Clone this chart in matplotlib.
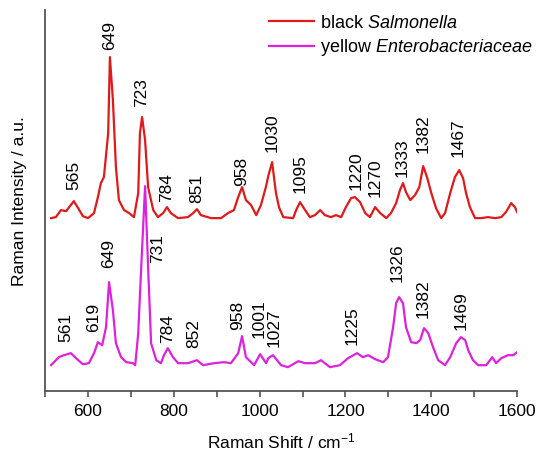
import numpy as np
import matplotlib
matplotlib.use('Agg')
from matplotlib import pyplot as plt

plt.rcParams['font.family'] = 'Liberation Sans'
plt.rcParams['mathtext.fontset'] = 'custom'
plt.rcParams['mathtext.rm'] = 'Liberation Sans'
plt.rcParams['mathtext.it'] = 'Liberation Sans:italic'

# black Salmonella spectrum (Raman shift / cm-1, intensity a.u.)
red_x = [514, 525, 537, 549, 556, 567, 577, 588, 600, 614, 623, 630, 637, 647, 651,
         658, 665, 672, 684, 696, 707, 717, 721, 726, 733, 740, 752, 763, 775, 784,
         793, 810, 833, 845, 854, 863, 887, 910, 926, 940, 950, 959, 968, 980, 992,
         1003, 1015, 1020, 1029, 1038, 1045, 1055, 1078, 1085, 1094, 1106, 1117, 1129,
         1141, 1152, 1166, 1178, 1190, 1201, 1213, 1222, 1234, 1246, 1257, 1269, 1281,
         1295, 1306, 1318, 1327, 1334, 1341, 1351, 1362, 1372, 1381, 1390, 1400, 1411,
         1423, 1432, 1444, 1455, 1465, 1474, 1481, 1490, 1502, 1516, 1532, 1549, 1563,
         1574, 1586, 1595, 1600]
red_y = [173, 174, 181, 180, 184, 190, 183, 175, 173, 178, 194, 208, 214, 258, 334,
         291, 224, 191, 181, 178, 174, 198, 258, 274, 251, 204, 181, 174, 178, 184,
         178, 173, 174, 178, 182, 176, 173, 173, 178, 181, 194, 204, 191, 186, 176,
         186, 205, 215, 229, 198, 184, 174, 173, 181, 189, 181, 174, 176,
         181, 176, 174, 176, 174, 184, 193, 194, 189, 178, 174, 184, 178,
         173, 178, 188, 201, 208, 199, 191, 196, 204, 225, 214, 198, 183,
         173, 178, 198, 214, 221, 213, 198, 184, 173, 173, 174, 173, 174,
         179, 188, 184, 179]

# yellow Enterobacteriaceae spectrum
mag_x = [514, 532, 544, 560, 572, 588, 602, 614, 623, 633, 642, 649, 658, 665, 677,
         689, 705, 710, 717, 724, 733, 740, 747, 759, 770, 777, 786, 798, 810, 833,
         854, 868, 894, 917, 933, 950, 959, 968, 987, 1001, 1015, 1020, 1031, 1050,
         1066, 1090, 1106, 1129, 1143, 1164, 1187, 1206, 1227, 1241, 1253, 1269, 1288,
         1299, 1311, 1318, 1325, 1334, 1341, 1353, 1365, 1374, 1383, 1393, 1404, 1416,
         1432, 1444, 1458, 1469, 1479, 1486, 1497, 1509, 1528, 1542, 1551, 1563, 1579,
         1591, 1600]
mag_y = [26, 34, 36, 38, 33, 27, 28, 38, 49, 46, 64, 109, 81, 48, 34,
         29, 28, 26, 58, 124, 205, 124, 48, 31, 28, 36, 43, 34, 28, 28,
         31, 26, 28, 29, 28, 38, 55, 34, 26, 37, 28, 33, 36, 26,
         24, 30, 28, 28, 31, 24, 26, 33, 38, 34, 36, 32, 29,
         34, 64, 88, 94, 88, 64, 49, 48, 51, 63, 58, 44, 31,
         26, 34, 48, 54, 51, 41, 31, 26, 26, 34, 28, 33, 36,
         36, 39]

# peak labels: (text, x position, y of text bottom)
red_labels = [('565', 567, 201), ('649', 651, 341), ('723', 726, 284), ('784', 784, 189),
              ('851', 854, 188), ('958', 959, 205), ('1030', 1029, 239), ('1095', 1094, 198),
              ('1220', 1224, 201), ('1270', 1269, 194), ('1333', 1332, 214), ('1382', 1381, 238),
              ('1467', 1463, 234)]
mag_labels = [('561', 549, 49), ('619', 612, 59), ('649', 649, 123), ('731', 763, 128),
              ('784', 786, 48), ('852', 847, 43), ('958', 949, 61), ('1001', 998, 53),
              ('1027', 1033, 44), ('1225', 1215, 46), ('1326', 1320, 109), ('1382', 1381, 73),
              ('1469', 1469, 61)]

red_c = '#de1a1a'
mag_c = '#dc22dc'

fig = plt.figure(figsize=(5.37, 4.57), dpi=100)
ax = fig.add_axes([0.084, 0.144, 0.879, 0.834])

ax.plot(red_x, red_y, color=red_c, lw=1.6, label='black $\\it{Salmonella}$')
ax.plot(mag_x, mag_y, color=mag_c, lw=1.6, label='yellow $\\it{Enterobacteriaceae}$')

for t, x, y in red_labels:
    ax.text(x, y, t, rotation=90, ha='center', va='bottom', fontsize=12.5)
for t, x, y in mag_labels:
    ax.text(x, y, t, rotation=90, ha='center', va='bottom', fontsize=12.5)

ax.set_xlim(500, 1600)
ax.set_ylim(0, 381)
ax.set_xticks(np.arange(600, 1601, 200))
ax.set_xticks(np.arange(500, 1601, 100), minor=True)
ax.set_yticks([])
ax.tick_params(axis='x', which='both', length=4, width=1.2, color='#555555',
               labelsize=12.5, pad=5)
for s in ['top', 'right']:
    ax.spines[s].set_visible(False)
for s in ['left', 'bottom']:
    ax.spines[s].set_color('#555555')
    ax.spines[s].set_linewidth(1.3)

ax.set_xlabel('Raman Shift / cm$^{-1}$', fontsize=12.5, labelpad=9)
ax.set_ylabel('Raman Intensity / a.u.', fontsize=12.5, labelpad=13)

ax.legend(loc='upper left', bbox_to_anchor=(0.501, 0.968), bbox_transform=fig.transFigure,
          frameon=False, fontsize=13, handlelength=2.5, handletextpad=0.3,
          borderpad=0, borderaxespad=0, labelspacing=0.3)

plt.savefig('out.png', dpi=100)
